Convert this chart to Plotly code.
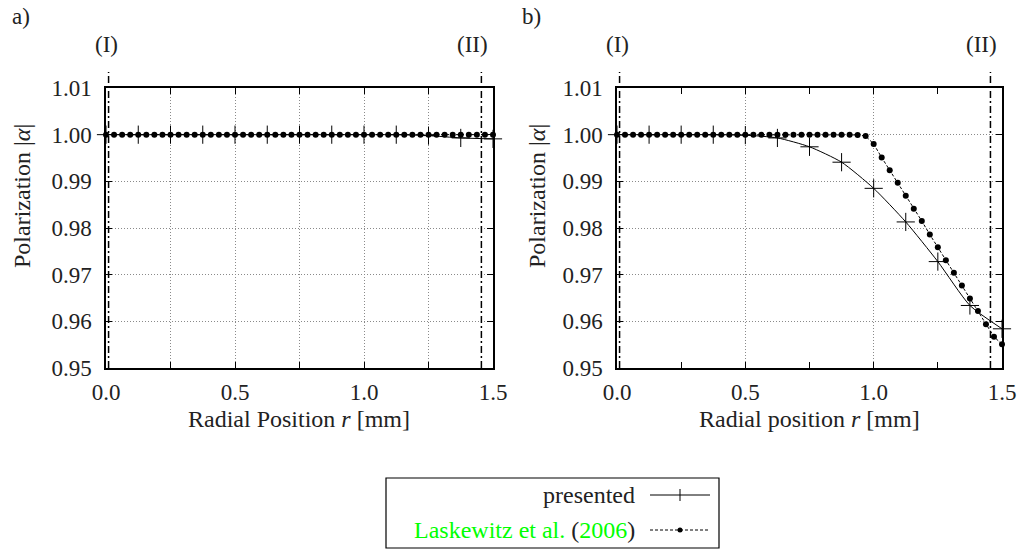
import plotly.graph_objects as go

# Radial positions [mm]
r_presented = [0.0, 0.125, 0.25, 0.375, 0.5, 0.625, 0.75, 0.875, 1.0, 1.125, 1.25, 1.375, 1.5]
r_laskewitz = [i / 32 for i in range(49)]

# Polarization |alpha|, case a)
pol_presented_a = [1.0, 1.0, 1.0, 1.0, 1.0, 1.0, 1.0, 1.0, 1.0, 1.0, 0.9998, 0.9993, 0.9991]
pol_laskewitz_a = [1.0] * 49

# Polarization |alpha|, case b)
pol_presented_b = [1.0, 1.0, 1.0, 1.0, 0.9999, 0.9993, 0.9974, 0.9941, 0.9885,
                   0.9813, 0.9728, 0.9634, 0.9584]
pol_laskewitz_b = [1.0] * 30 + [0.99995, 0.9997, 0.9980, 0.9951, 0.9924, 0.9897,
                                0.9869, 0.9841, 0.9815, 0.9786, 0.9759, 0.9731,
                                0.9704, 0.9677, 0.9649, 0.9622, 0.9594, 0.9567, 0.9551]

# Region boundaries (I) and (II) [mm]
boundaries = [0.01, 1.455]
boundary_labels = ["(I)", "(II)"]

W, H = 1024, 551
FONT = "Liberation Serif, DejaVu Serif, serif"
FS = 23
GREEN = "#00ff00"
GRID = "#8a8a8a"
GRID_DASH = "1px,2px"


def px(x):
    return x / W


def py(y):
    return 1 - y / H


def label(text, x, y, size=FS, **kw):
    d = dict(text=text, xref="paper", yref="paper", x=px(x), y=py(y),
             xanchor="center", yanchor="middle", showarrow=False,
             font=dict(family=FONT, size=size, color="#222"))
    d.update(kw)
    return d


fig = go.Figure()

panels = [
    ("x", "y", pol_presented_a, pol_laskewitz_a),
    ("x2", "y2", pol_presented_b, pol_laskewitz_b),
]
for xa, ya, pres, lask in panels:
    fig.add_trace(go.Scatter(
        x=r_laskewitz, y=lask, xaxis=xa, yaxis=ya, mode="lines+markers",
        line=dict(color="black", width=1, dash="3px,2px"),
        marker=dict(symbol="circle", size=6, color="black"),
        cliponaxis=False, showlegend=False))
    fig.add_trace(go.Scatter(
        x=r_presented, y=pres, xaxis=xa, yaxis=ya, mode="lines+markers",
        line=dict(color="black", width=1, shape="spline", smoothing=0.6),
        marker=dict(symbol="cross-thin", size=13, line=dict(color="black", width=1)),
        cliponaxis=False, showlegend=False))

axis_common = dict(
    showline=True, linecolor="black", linewidth=1.5, mirror="ticks",
    ticks="inside", ticklen=6, tickwidth=1, tickcolor="black",
    showgrid=True, gridcolor=GRID, gridwidth=1, griddash=GRID_DASH,
    zeroline=False, automargin=False,
    tickfont=dict(family=FONT, size=FS, color="#222"),
)

x_dom_a = [px(106), px(493)]
x_dom_b = [px(617), px(1002)]
y_dom = [py(368), py(88)]

fig.update_layout(
    width=W, height=H, margin=dict(l=0, r=0, t=0, b=0, pad=0),
    paper_bgcolor="white", plot_bgcolor="white", showlegend=False,
    font=dict(family=FONT, size=FS, color="#222"),
    xaxis=dict(axis_common, domain=x_dom_a, range=[0, 1.5], dtick=0.5,
               tickformat=".1f", anchor="y", ticklabelstandoff=3,
               minor=dict(dtick=0.25, ticks="inside", ticklen=6, tickcolor="black",
                          showgrid=True, gridcolor=GRID, griddash=GRID_DASH)),
    yaxis=dict(axis_common, domain=y_dom, range=[0.95, 1.01], dtick=0.01,
               tickformat=".2f", anchor="x", ticklabelstandoff=8),
    xaxis2=dict(axis_common, domain=x_dom_b, range=[0, 1.5], dtick=0.5,
                tickformat=".1f", anchor="y2", ticklabelstandoff=3,
                minor=dict(dtick=0.25, ticks="inside", ticklen=6, tickcolor="black",
                           showgrid=False)),
    yaxis2=dict(axis_common, domain=y_dom, range=[0.95, 1.01], dtick=0.01,
                tickformat=".2f", anchor="x2", ticklabelstandoff=8),
)

shapes = []
annotations = []

# Dash-dot region boundaries with labels above each panel
for xa in ["x", "x2"]:
    for b, lab in zip(boundaries, boundary_labels):
        shapes.append(dict(type="line", xref=xa, yref="paper", x0=b, x1=b,
                           y0=py(368), y1=py(72),
                           line=dict(color="black", width=1.5, dash="7px,3px,2px,3px")))
        annotations.append(dict(text=lab, xref=xa, yref="paper", x=b, y=py(45),
                                xanchor="center", yanchor="middle",
                                xshift=-2 if lab == "(I)" else -9,
                                showarrow=False, font=dict(family=FONT, size=FS, color="#222")))

# Panel letters
annotations.append(label("a)", 21, 16))
annotations.append(label("b)", 531, 16))

# Axis titles
annotations.append(label("Polarization |<i>α</i>|", 22, 196, size=24, textangle=-90))
annotations.append(label("Polarization |<i>α</i>|", 537, 196, size=24, textangle=-90))
annotations.append(label("Radial Position <i>r</i> [mm]", 299, 419, size=24))
annotations.append(label("Radial position <i>r</i> [mm]", 809, 419, size=24))

# Legend box
shapes.append(dict(type="rect", xref="paper", yref="paper",
                   x0=px(386), x1=px(719), y0=py(548), y1=py(478),
                   line=dict(color="black", width=1.2), fillcolor="white"))
annotations.append(label("presented", 637, 495, size=24, xanchor="right"))
annotations.append(label(
    f"<span style='color:{GREEN}'>Laskewitz et al. </span>("
    f"<span style='color:{GREEN}'>2006</span>)", 637, 530, size=24, xanchor="right"))
shapes.append(dict(type="line", xref="paper", yref="paper", x0=px(650), x1=px(710),
                   y0=py(495), y1=py(495), line=dict(color="black", width=1)))
shapes.append(dict(type="line", xref="paper", yref="paper", x0=px(680), x1=px(680),
                   y0=py(489), y1=py(501), line=dict(color="black", width=1)))
shapes.append(dict(type="line", xref="paper", yref="paper", x0=px(650), x1=px(710),
                   y0=py(530), y1=py(530), line=dict(color="black", width=1, dash="3px,2px")))
shapes.append(dict(type="circle", xref="paper", yref="paper", x0=px(677.5), x1=px(682.5),
                   y0=py(532.5), y1=py(527.5), fillcolor="black", line=dict(color="black", width=0)))

fig.update_layout(shapes=shapes, annotations=annotations)

fig.write_html("out.html")
